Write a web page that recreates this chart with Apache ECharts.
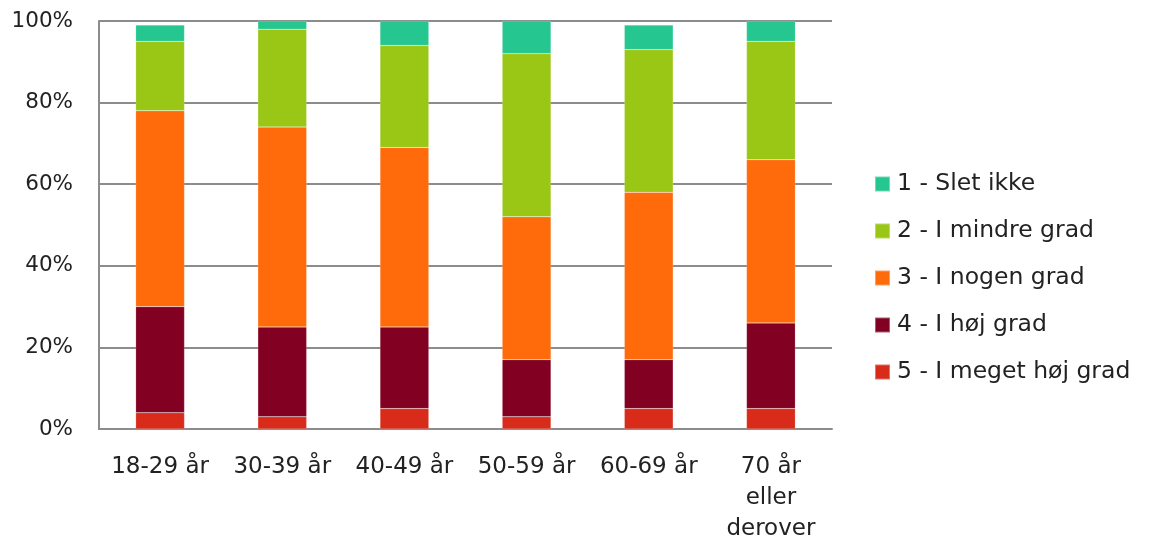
<!DOCTYPE html>
<html>
<head>
<meta charset="utf-8">
<script src="https://cdn.jsdelivr.net/npm/echarts@6/dist/echarts.min.js"></script>
<style>html,body{margin:0;padding:0;background:#fff}#c{width:1155px;height:540px}</style>
</head>
<body>
<div id="c"></div>
<script>
const categories = ['18-29 år', '30-39 år', '40-49 år', '50-59 år', '60-69 år', '70 år\neller\nderover'];
const seriesNames = ['1 - Slet ikke', '2 - I mindre grad', '3 - I nogen grad', '4 - I høj grad', '5 - I meget høj grad'];
const sletIkke = [4, 2, 6, 8, 6, 5];
const mindreGrad = [17, 24, 25, 40, 35, 29];
const nogenGrad = [48, 49, 44, 35, 41, 40];
const hojGrad = [26, 22, 20, 14, 12, 21];
const megetHojGrad = [4, 3, 5, 3, 5, 5];
const yTicks = [0, 20, 40, 60, 80, 100];
const colors = ['#25C690', '#9AC616', '#FF6A0B', '#820021', '#D92B1A'];

const font = '"DejaVu Sans", "Open Sans", sans-serif';
const values = [sletIkke, mindreGrad, nogenGrad, hojGrad, megetHojGrad];
const series = [];
for (let i = 4; i >= 0; i--) {
  series.push({
    name: seriesNames[i],
    type: 'bar',
    stack: 'total',
    barCategoryGap: '60%',
    data: values[i],
    itemStyle: { color: colors[i], borderColor: 'rgba(255,255,255,0.35)', borderWidth: 0.5 }
  });
}
const chart = echarts.init(document.getElementById('c'), null, { renderer: 'canvas' });
chart.setOption({
  animation: false,
  color: colors,
  grid: { left: 99, right: 323, top: 21, bottom: 111, containLabel: false, outerBoundsMode: 'none' },
  legend: {
    data: seriesNames,
    orient: 'vertical',
    left: 869,
    top: 167,
    itemWidth: 15,
    itemHeight: 15,
    itemGap: 23,
    icon: 'rect',
    textStyle: { fontFamily: font, fontSize: 23.5, lineHeight: 24, color: '#222', padding: [0, 0, 0, 2] }
  },
  xAxis: {
    type: 'category',
    data: categories,
    axisLine: { lineStyle: { color: '#8c8c8c', width: 2 } },
    axisTick: { show: false },
    axisLabel: { fontFamily: font, fontSize: 23, color: '#222', margin: 23, lineHeight: 31, interval: 0 }
  },
  yAxis: {
    type: 'value',
    min: 0,
    max: 100,
    interval: 20,
    axisLine: { show: true, lineStyle: { color: '#8c8c8c', width: 2 } },
    axisTick: { show: false },
    splitLine: { lineStyle: { color: '#8c8c8c', width: 2 } },
    axisLabel: {
      fontFamily: font, fontSize: 21.5, color: '#222', margin: 26,
      formatter: v => yTicks.includes(v) ? v + '%' : ''
    }
  },
  series: series
});
</script>
</body>
</html>
